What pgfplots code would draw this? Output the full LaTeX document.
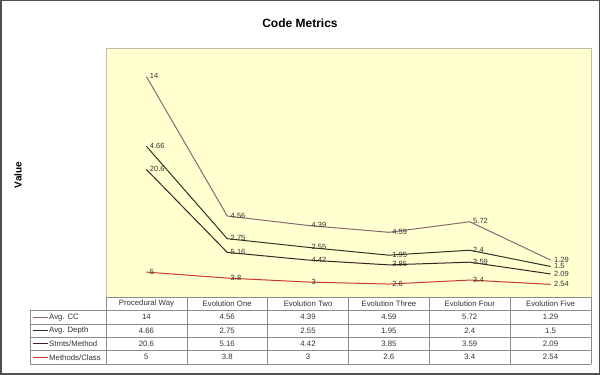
\documentclass[border=0pt]{standalone}
\usepackage{pgfplots}
\pgfplotsset{compat=1.18}
\usepackage{pgfplotstable}
\usepackage{fontspec}
\setmainfont{Liberation Sans}
\definecolor{cccol}{HTML}{8A6872}
\definecolor{dpcol}{HTML}{2C3624}
\definecolor{smcol}{HTML}{3C2426}
\definecolor{mccol}{HTML}{C83A32}
\definecolor{bgcol}{RGB}{255,255,208}
\definecolor{plotborder}{HTML}{BDBDA8}
\definecolor{tabline}{HTML}{8C8C8C}
\definecolor{framecol}{HTML}{505050}
\definecolor{labtext}{HTML}{333333}
\pgfplotstableread{
x mc sm dp cc
0.5 5 20.6 4.66 14
1.5 3.8 5.16 2.75 4.56
2.5 3 4.42 2.55 4.39
3.5 2.6 3.85 1.95 4.59
4.5 3.4 3.59 2.4 5.72
5.5 2.54 2.09 1.5 1.29
}\data
\begin{document}
\begin{tikzpicture}[x=1pt,y=1pt]
\useasboundingbox (0,0) rectangle (600,375);
\fill[white] (0,0) rectangle (600,375);
\draw[framecol, line width=1.5pt] (0.75,0.75) rectangle (599.25,374.25);
\node[font=\bfseries\fontsize{12}{14}\selectfont] at (300,352) {Code Metrics};
\node[font=\bfseries\fontsize{10}{12}\selectfont, rotate=90] at (18,200) {Value};
\begin{axis}[at={(106pt,78pt)}, anchor=south west, scale only axis,
  width=485pt, height=249pt, xmin=0, xmax=6, ymin=0, ymax=50,
  xtick=\empty, ytick=\empty,
  axis background/.style={fill=bgcol},
  axis line style={plotborder},
  stack plots=y, clip=false,
  nodes near coords, point meta=explicit symbolic,
  nodes near coords style={anchor=west, font=\fontsize{7.5}{8}\selectfont, text=labtext, inner sep=1pt, xshift=2pt, yshift=0.5pt}]
\addplot[mccol, line width=1pt] table[x=x,y=mc,meta=mc]{\data};
\addplot[smcol, line width=1pt] table[x=x,y=sm,meta=sm]{\data};
\addplot[dpcol, line width=1pt] table[x=x,y=dp,meta=dp]{\data};
\addplot[cccol, line width=1pt] table[x=x,y=cc,meta=cc]{\data};
\end{axis}
% data table
\begin{scope}[tabline, line width=0.6pt]
\draw (106,78) -- (591,78);
\foreach \yy in {64.3,51,37.7,24.3,11} \draw (30,\yy) -- (591,\yy);
\draw (30,64.3) -- (30,11);
\foreach \k in {0,...,6} \draw ({106+80.83*\k},78) -- ({106+80.83*\k},11);
\end{scope}
\begin{scope}[font=\fontsize{7.8}{9}\selectfont, text=labtext]
\foreach \h [count=\i from 0] in {Procedural Way,Evolution One,Evolution Two,Evolution Three,Evolution Four,Evolution Five}
  \node at ({146.4+80.83*\i},71.2) {\h};
\foreach \v [count=\i from 0] in {14,4.56,4.39,4.59,5.72,1.29}
  \node at ({146.4+80.83*\i},57.7) {\v};
\foreach \v [count=\i from 0] in {4.66,2.75,2.55,1.95,2.4,1.5}
  \node at ({146.4+80.83*\i},44.3) {\v};
\foreach \v [count=\i from 0] in {20.6,5.16,4.42,3.85,3.59,2.09}
  \node at ({146.4+80.83*\i},31) {\v};
\foreach \v [count=\i from 0] in {5,3.8,3,2.6,3.4,2.54}
  \node at ({146.4+80.83*\i},17.7) {\v};
\draw[cccol, line width=1pt] (33,57.7) -- (48,57.7);
\draw[dpcol, line width=1pt] (33,44.3) -- (48,44.3);
\draw[smcol, line width=1pt] (33,31) -- (48,31);
\draw[mccol, line width=1pt] (33,17.7) -- (48,17.7);
\node[anchor=west, inner sep=0pt] at (49,57.7) {Avg. CC};
\node[anchor=west, inner sep=0pt] at (49,44.3) {Avg. Depth};
\node[anchor=west, inner sep=0pt] at (49,31) {Stmts/Method};
\node[anchor=west, inner sep=0pt] at (49,17.7) {Methods/Class};
\end{scope}
\end{tikzpicture}
\end{document}
